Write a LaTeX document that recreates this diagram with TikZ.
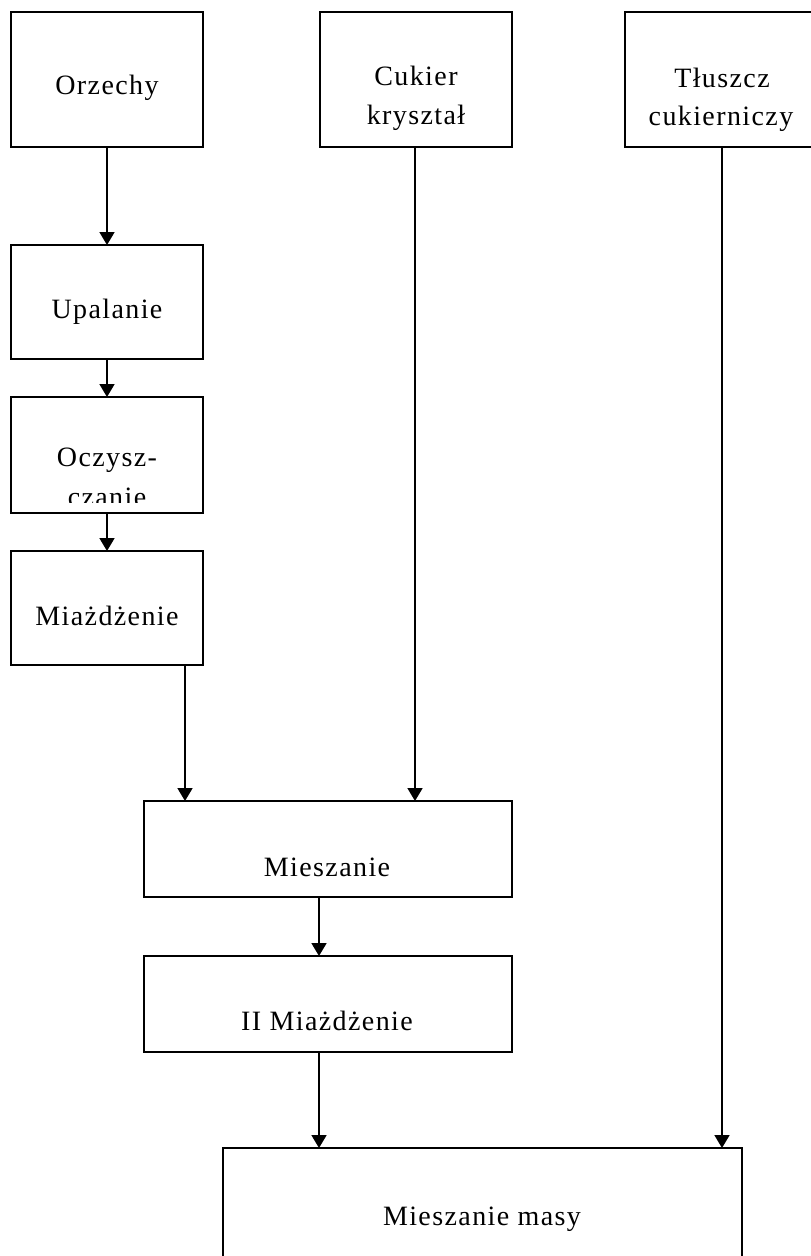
\documentclass[tikz,border=0pt]{standalone}
\usepackage{fontspec}
\setmainfont{Liberation Serif}[LetterSpace=5]
\usetikzlibrary{arrows.meta}

\begin{document}
\begin{tikzpicture}[x=1pt, y=-1pt,
  box/.style={draw, rectangle, line width=1.8pt, inner sep=0pt, outer sep=0pt},
  lbl/.style={anchor=base, inner sep=0pt, font=\fontsize{28}{40}\selectfont},
  arr/.style={line width=1.8pt, -{Triangle[width=15pt, length=13pt]}}]

\useasboundingbox (0,0) rectangle (811,1256);
\clip (0,0) rectangle (811,1256);

% process boxes
\node[box, minimum width=192pt, minimum height=135pt] (orz)   at (107,79.5)  {};
\node[box, minimum width=192pt, minimum height=135pt] (cuk)   at (416,79.5)  {};
\node[box, minimum width=205pt, minimum height=135pt] (tl)    at (727.5,79.5){};
\node[box, minimum width=192pt, minimum height=114pt] (upal)  at (107,302)   {};
\node[box, minimum width=192pt, minimum height=116pt] (ocz)   at (107,455)   {};
\node[box, minimum width=192pt, minimum height=114pt] (miaz)  at (107,608)   {};
\node[box, minimum width=368pt, minimum height=96pt]  (mies)  at (328,849)   {};
\node[box, minimum width=368pt, minimum height=96pt]  (mies2) at (328,1004)  {};
\node[box, minimum width=519pt, minimum height=152pt] (masy)  at (482.5,1224){};

% labels
\node[lbl] (t-orz)  at (107,94)   {Orzechy};
\node[lbl] (t-cuk1) at (416,85)   {Cukier};
\node[lbl] (t-cuk2) at (416,124)  {kryształ};
\node[lbl] (t-tl1)  at (722,87)   {Tłuszcz};
\node[lbl] (t-tl2)  at (721,125)  {cukierniczy};
\node[lbl] (t-upal) at (107,318)  {Upalanie};
\node[lbl] (t-ocz1) at (107,466)  {Oczysz-};
\begin{scope}
  \clip (13,399) rectangle (201,502);
  \node[lbl] (t-ocz2) at (107,506) {czanie};
\end{scope}
\node[lbl] (t-miaz)  at (107,625)  {Miażdżenie};
\node[lbl] (t-mies)  at (327,876)  {Mieszanie};
\node[lbl] (t-mies2) at (327,1030) {II Miażdżenie};
\node[lbl] (t-masy)  at (482,1225) {Mieszanie masy};

% columns of the connectors
\coordinate (xa) at (185,0);
\coordinate (xb) at (415,0);
\coordinate (xc) at (319,0);
\coordinate (xd) at (722,0);

% connectors
\draw[arr] (orz)  -- (upal);
\draw[arr] (upal) -- (ocz);
\draw[arr] (ocz)  -- (miaz);
\draw[arr] (miaz.south -| xa)  -- (mies.north -| xa);
\draw[arr] (cuk.south -| xb)   -- (mies.north -| xb);
\draw[arr] (mies.south -| xc)  -- (mies2.north -| xc);
\draw[arr] (mies2.south -| xc) -- (masy.north -| xc);
\draw[arr] (tl.south -| xd)    -- (masy.north -| xd);
\end{tikzpicture}
\end{document}
